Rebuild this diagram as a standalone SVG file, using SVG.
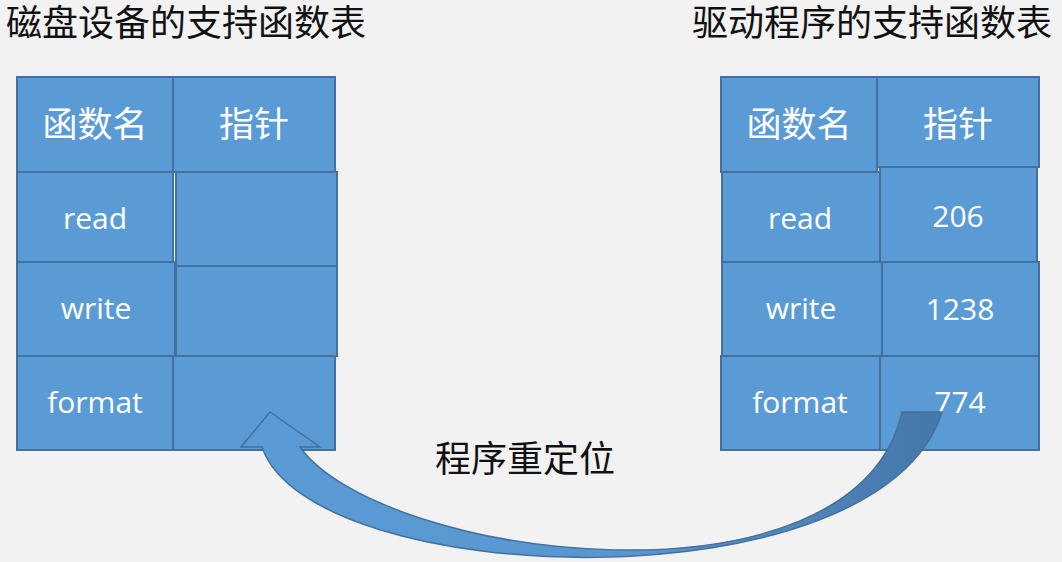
<svg xmlns="http://www.w3.org/2000/svg" width="1062" height="562" viewBox="0 0 1062 562">
<defs>
<style>
.cell{fill:#5b9bd5;stroke:#41719c;stroke-width:2}
.hd{font-family:"Noto Sans CJK SC","Noto Sans",sans-serif;font-size:35px;fill:#ffffff;text-anchor:middle}
.tx{font-family:"Open Sans","Noto Sans",sans-serif;font-size:30px;fill:#ffffff;text-anchor:middle}
.title{font-family:"Noto Sans CJK SC",sans-serif;font-size:36px;fill:#111111}
</style>
<linearGradient id="ag" gradientUnits="userSpaceOnUse" x1="260" y1="0" x2="945" y2="0">
<stop offset="0" stop-color="#5b9bd5"/>
<stop offset="0.55" stop-color="#5896cf"/>
<stop offset="1" stop-color="#4676aa"/>
</linearGradient>
</defs>
<rect width="1062" height="562" fill="#f2f2f2"/>
<g id="title-left"><text class="title" x="6" y="36">磁盘设备的支持函数表</text></g>
<g id="title-right"><text class="title" x="692" y="36">驱动程序的支持函数表</text></g>
<g id="left-table">
<g id="l-h1"><rect class="cell" x="17" y="77" width="156" height="95"/><text class="hd" x="95" y="137">函数名</text></g>
<g id="l-h2"><rect class="cell" x="173" y="77" width="162" height="95"/><text class="hd" x="254" y="137">指针</text></g>
<g id="l-r1"><rect class="cell" x="17" y="172" width="156" height="90"/><text class="tx" x="95" y="229">read</text></g>
<g id="l-p1"><rect class="cell" x="176" y="172" width="161" height="94"/></g>
<g id="l-r2"><rect class="cell" x="17" y="262" width="158" height="94"/><text class="tx" x="96" y="319">write</text></g>
<g id="l-p2"><rect class="cell" x="176" y="266" width="161" height="90"/></g>
<g id="l-r3"><rect class="cell" x="17" y="356" width="156" height="94"/><text class="tx" x="95" y="413">format</text></g>
<g id="l-p3"><rect class="cell" x="173" y="356" width="162" height="94"/></g>
</g>
<g id="right-table">
<g id="r-h1"><rect class="cell" x="721" y="77" width="156" height="95"/><text class="hd" x="799" y="137">函数名</text></g>
<g id="r-h2"><rect class="cell" x="877" y="77" width="162" height="90"/><text class="hd" x="958" y="137">指针</text></g>
<g id="r-r1"><rect class="cell" x="722" y="172" width="158" height="90"/><text class="tx" x="800" y="229">read</text></g>
<g id="r-p1"><rect class="cell" x="880" y="167" width="157" height="95"/><text class="tx" x="958" y="227">206</text></g>
<g id="r-r2"><rect class="cell" x="722" y="262" width="160" height="94"/><text class="tx" x="801" y="319">write</text></g>
<g id="r-p2"><rect class="cell" x="882" y="262" width="157" height="94"/><text class="tx" x="960" y="320">1238</text></g>
<g id="r-r3"><rect class="cell" x="721" y="356" width="159" height="94"/><text class="tx" x="800" y="413">format</text></g>
<g id="r-p3"><rect class="cell" x="880" y="356" width="159" height="94"/><text class="tx" x="960" y="413">774</text></g>
</g>
<g id="connectors">
<path d="M241,447 L270,412 L320,447 L300,447 C380,560 855,620 902,412 L942,412 C880,610 310,590 262,447 Z" fill="url(#ag)" stroke="#41719c" stroke-width="1.5" stroke-linejoin="miter"/>
</g>
<g id="label"><text x="525" y="472" text-anchor="middle" font-family="Noto Sans CJK SC, sans-serif" font-size="36" fill="#111111">程序重定位</text></g>
</svg>
